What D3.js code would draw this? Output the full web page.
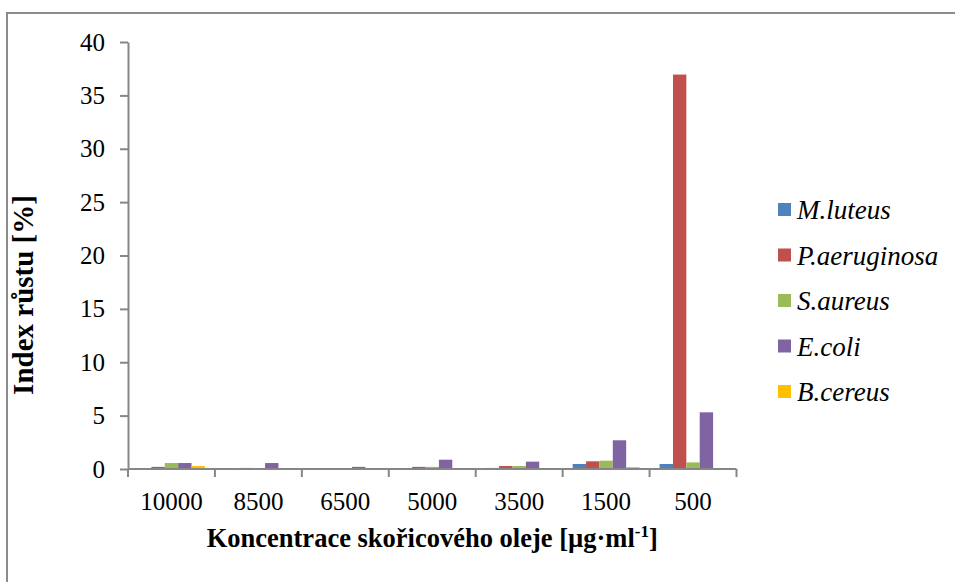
<!DOCTYPE html>
<html>
<head>
<meta charset="utf-8">
<script src="https://cdn.jsdelivr.net/npm/d3@7"></script>
<style>
  body { margin: 0; background: #fff; }
</style>
</head>
<body>
<svg id="chart" width="955" height="582"></svg>
<script>
// concentrations (categories) and growth index per strain
const concentrations = ["10000", "8500", "6500", "5000", "3500", "1500", "500"];
const strains = ["M.luteus", "P.aeruginosa", "S.aureus", "E.coli", "B.cereus"];
const colors = ["#4F81BD", "#C0504D", "#9BBB59", "#8064A2", "#FFC000"];

const mLuteus     = [0.0, 0.0, 0.0, 0.0, 0.1, 0.47, 0.47];
const pAeruginosa = [0.2, 0.1, 0.0, 0.2, 0.28, 0.72, 36.95];
const sAureus     = [0.56, 0.0, 0.0, 0.2, 0.28, 0.78, 0.62];
const eColi       = [0.56, 0.56, 0.2, 0.87, 0.69, 2.69, 5.31];
const bCereus     = [0.28, 0.0, 0.0, 0.0, 0.0, 0.19, 0.0];
const series = [mLuteus, pAeruginosa, sAureus, eColi, bCereus];

const yTicks = [0, 5, 10, 15, 20, 25, 30, 35, 40];

const FONT = "'Liberation Serif', 'Times New Roman', 'DejaVu Serif', serif";
const svg = d3.select("#chart").style("font-family", FONT);
const axisColor = "#868686";

// outer frame (only top / left visible in the original)
svg.append("rect")
  .attr("x", 7).attr("y", 13)
  .attr("width", 970).attr("height", 600)
  .attr("fill", "none")
  .attr("stroke", "#8c8c8c")
  .attr("stroke-width", 2);

const plot = { left: 128, right: 736.5, top: 42, bottom: 469 };

const x = d3.scaleBand()
  .domain(concentrations)
  .range([plot.left, plot.right]);

// gap width 150% -> each category = 5 bars + 1.5 bars of gap
const barW = x.bandwidth() / 6.5;
const x1 = d3.scaleBand()
  .domain(strains)
  .range([barW * 0.75, barW * 5.75]);

const y = d3.scaleLinear().domain([0, 40]).range([plot.bottom, plot.top]);

// bars
const groups = svg.append("g").selectAll("g")
  .data(concentrations)
  .join("g")
  .attr("transform", d => `translate(${x(d)},0)`);

groups.selectAll("rect")
  .data((c, ci) => strains.map((s, si) => ({ s, si, v: series[si][ci] })))
  .join("rect")
  .attr("x", d => x1(d.s))
  .attr("width", x1.bandwidth())
  .attr("y", d => y(d.v))
  .attr("height", d => y(0) - y(d.v))
  .attr("fill", d => colors[d.si]);

// y axis
const yAxis = svg.append("g")
  .attr("transform", `translate(${plot.left},0)`)
  .call(d3.axisLeft(y).tickValues(yTicks).tickSize(8).tickPadding(15).tickSizeOuter(0))
  .attr("font-family", null);
yAxis.select(".domain").attr("stroke", axisColor).attr("stroke-width", 2);
yAxis.selectAll(".tick line").attr("stroke", axisColor).attr("stroke-width", 2);
yAxis.selectAll(".tick text")
  .style("font-family", FONT)
  .attr("font-size", 25)
  .attr("fill", "#000");

// x axis: ticks between categories
const xAxisG = svg.append("g");
xAxisG.append("line")
  .attr("x1", plot.left).attr("x2", plot.right)
  .attr("y1", plot.bottom).attr("y2", plot.bottom)
  .attr("stroke", axisColor).attr("stroke-width", 2);
const bounds = concentrations.map(c => x(c)).concat([plot.right]);
xAxisG.selectAll("line.tk")
  .data(bounds)
  .join("line")
  .attr("class", "tk")
  .attr("x1", d => d).attr("x2", d => d)
  .attr("y1", plot.bottom).attr("y2", plot.bottom + 8)
  .attr("stroke", axisColor).attr("stroke-width", 2);
xAxisG.selectAll("text")
  .data(concentrations)
  .join("text")
  .style("font-family", FONT)
  .attr("x", d => x(d) + x.bandwidth() / 2)
  .attr("y", 510)
  .attr("text-anchor", "middle")
  .attr("font-size", 25)
  .text(d => d);

// axis titles
svg.append("text")
  .style("font-family", FONT)
  .attr("transform", "translate(33,295) rotate(-90)")
  .attr("text-anchor", "middle")
  .attr("font-size", 29)
  .attr("font-weight", "bold")
  .text("Index růstu [%]");

const xt = svg.append("text")
  .style("font-family", FONT)
  .attr("x", (plot.left + plot.right) / 2)
  .attr("y", 547)
  .attr("text-anchor", "middle")
  .attr("font-size", 26.5)
  .attr("font-weight", "bold");
xt.append("tspan").text("Koncentrace skořicového oleje [µg·ml");
xt.append("tspan").attr("font-size", 17).attr("dy", -10).text("-1");
xt.append("tspan").attr("dy", 10).text("]");

// legend
const legend = svg.append("g").selectAll("g")
  .data(strains)
  .join("g")
  .attr("transform", (d, i) => `translate(778,${210 + i * 45.5})`);
legend.append("rect")
  .attr("x", 0).attr("y", -7)
  .attr("width", 13).attr("height", 13)
  .attr("fill", (d, i) => colors[i]);
legend.append("text")
  .style("font-family", FONT)
  .attr("x", 19).attr("y", 9)
  .attr("font-size", 27)
  .attr("font-style", "italic")
  .text(d => d);
</script>
</body>
</html>
